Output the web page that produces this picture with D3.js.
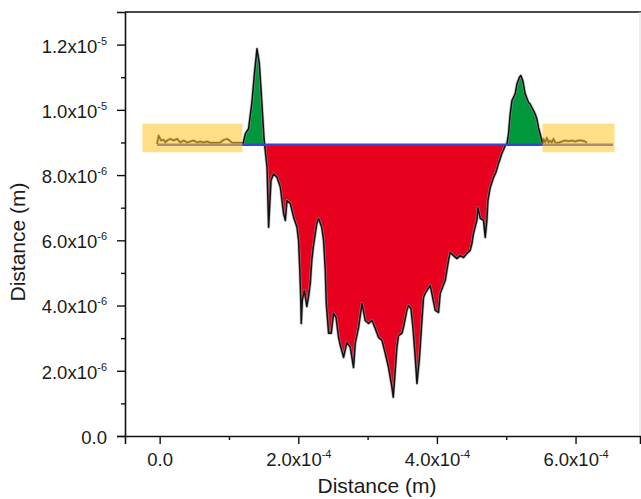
<!DOCTYPE html>
<html>
<head>
<meta charset="utf-8">
<script src="https://cdn.jsdelivr.net/npm/d3@7"></script>
<style>
  html, body { margin: 0; padding: 0; background: #fff; }
  svg { display: block; }
  text { font-family: "Liberation Sans", Arial, sans-serif; fill: #1a1a1a; }
</style>
</head>
<body>
<svg id="chart" width="641" height="499"></svg>
<script>
// ---- DATA (distances in micrometres; axes labelled in metres) ----
// reference surface, left of the scratch
const leftFlatX = [-3.7, -1.4, 2.0, 5.8, 8.2, 10.7, 15.4, 20.2, 25.1, 29.8, 34.6, 39.5, 44.3, 49.0, 53.9, 58.7, 63.4, 68.4, 73.1, 77.9, 82.8, 87.5, 92.3, 97.2, 100.9, 104.4, 109.2, 113.9, 118.8];
const leftFlatY = [8.95, 9.21, 9.06, 9.08, 9.00, 9.06, 9.11, 9.06, 9.11, 9.00, 9.06, 9.00, 9.03, 9.06, 9.00, 9.03, 9.00, 9.03, 8.99, 8.99, 8.99, 9.00, 9.08, 9.11, 9.06, 8.99, 8.99, 8.99, 8.99];

// scratch profile: pile-up left, groove, pile-up right
const featureX = [120.3, 123.6, 128.3, 133.2, 136.6, 140.4, 143.7, 145.9, 148.1, 150.3, 151.4,
  154.9, 157.2, 160.6, 164.4, 169.3, 174.1, 178.8, 181.3, 183.7, 188.5, 193.2, 198.1, 200.4, 202.2, 203.6, 204.3, 205.8, 208.7, 212.3, 215.1, 217.3, 219.5, 221.6, 226.7, 229.3, 233.9, 236.5, 238.9, 240.4, 243.7, 247.6, 250.9, 254.4, 258.1, 260.6, 265.3, 270.2, 275.0, 279.7, 282.2, 287.0, 291.9, 296.6, 301.4, 306.3, 311.0, 315.8, 320.7, 325.5, 330.2, 335.1, 337.0, 339.9, 342.3, 344.6, 349.5, 351.8, 356.7, 359.1, 362.5, 365.4, 368.7, 371.2, 374.9, 378.4, 380.7, 383.1, 390.3, 397.6, 402.3, 404.8, 412.0, 416.7, 419.2, 423.9, 428.9, 433.6, 438.4, 443.3, 448.0, 450.5, 452.8, 457.7, 459.1, 462.5, 467.2, 469.7, 472.1, 473.6, 476.9, 481.6, 485.1, 488.8, 493.7, 498.5,
  501.0, 503.3, 505.7, 508.2, 512.9, 515.4, 519.1, 521.1, 524.0, 527.3, 532.1, 534.5, 539.3, 541.8, 544.2, 546.5, 549.0, 551.4, 552.9];
const featureY = [8.96, 9.27, 9.42, 10.25, 11.08, 11.87, 11.45, 10.74, 9.98, 9.21, 8.93,
  8.24, 6.40, 7.83, 8.04, 7.93, 7.63, 6.81, 6.61, 7.22, 7.13, 6.71, 6.40, 5.99, 5.08, 4.16, 3.45, 4.16, 4.46, 3.97, 4.31, 4.68, 5.38, 5.78, 6.51, 6.67, 6.39, 5.99, 5.08, 4.06, 3.15, 3.15, 3.76, 3.64, 3.02, 2.78, 2.41, 2.87, 2.72, 2.10, 2.84, 3.33, 4.06, 3.54, 3.45, 3.54, 3.30, 3.02, 2.93, 2.53, 2.10, 1.49, 1.19, 2.01, 2.72, 3.08, 3.15, 3.33, 3.85, 4.00, 3.91, 3.33, 2.41, 1.61, 2.41, 3.54, 4.25, 4.37, 4.62, 3.85, 3.79, 4.37, 4.77, 5.38, 5.63, 5.53, 5.44, 5.53, 5.47, 5.60, 5.69, 5.90, 6.21, 6.61, 7.00, 6.67, 6.61, 6.09, 6.61, 7.22, 7.62, 7.92, 8.08, 8.35, 8.66, 8.90,
  8.96, 9.26, 9.87, 10.28, 10.49, 10.79, 11.00, 11.05, 10.89, 10.49, 10.23, 10.18, 9.98, 9.87, 9.72, 9.46, 9.26, 9.06, 8.96];

// reference surface, right of the scratch
const rightFlatX = [553.7, 556.2, 558.6, 560.9, 563.4, 565.8, 568.2, 570.6, 575.4, 580.3, 585.0, 589.8, 594.7, 599.4, 604.2, 609.1, 613.8, 616.3];
const rightFlatY = [9.11, 9.00, 9.14, 9.00, 9.06, 9.00, 9.11, 9.00, 8.99, 9.03, 9.06, 9.04, 9.06, 9.03, 9.06, 9.06, 9.03, 8.99];

// reference (mean surface) line
const baselineLevel = 8.93;
const baselineX = [-3.7, 654.2];

// highlighted reference regions
const boxX0 = [-24.9, 552.3];
const boxX1 = [119.3, 656.3];
const boxYTop = 9.58;
const boxYBottom = 8.70;

// axes
const xDomain = [-50, 693];
const yDomain = [0, 13];
const xMajor = [0, 200, 400, 600];
const xMinor = [100, 300, 500];
const xTickMant = ["0.0", "2.0x10", "4.0x10", "6.0x10"];
const xTickExp = ["", "-4", "-4", "-4"];
const yMajor = [0, 2, 4, 6, 8, 10, 12];
const yMinor = [1, 3, 5, 7, 9, 11];
const yTickMant = ["0.0", "2.0x10", "4.0x10", "6.0x10", "8.0x10", "1.0x10", "1.2x10"];
const yTickExp = ["", "-6", "-6", "-6", "-6", "-5", "-5"];
const xTitle = "Distance (m)";
const yTitle = "Distance (m)";

// ---- DRAWING ----
(function () {
const svg = d3.select("#chart");
const pL = 125, pR = 640, pT = 12, pB = 436;
const x = d3.scaleLinear().domain(xDomain).range([pL, pR]);
const y = d3.scaleLinear().domain(yDomain).range([pB, pT]);

const pts = (xs, ys) => xs.map((v, i) => [v, ys[i]]);
const leftFlat = pts(leftFlatX, leftFlatY);
const feature = pts(featureX, featureY);
const rightFlat = pts(rightFlatX, rightFlatY);
const fullProfile = leftFlat.concat(feature, rightFlat);

const defs = svg.append("defs");
defs.append("clipPath").attr("id", "above").append("rect")
  .attr("x", pL).attr("y", pT).attr("width", pR - pL).attr("height", y(baselineLevel) - pT);
defs.append("clipPath").attr("id", "below").append("rect")
  .attr("x", pL).attr("y", y(baselineLevel)).attr("width", pR - pL).attr("height", pB - y(baselineLevel));

const area = d3.area().x(d => x(d[0])).y0(y(baselineLevel)).y1(d => y(d[1]));
svg.append("path").datum(feature).attr("d", area).attr("fill", "#00983c").attr("clip-path", "url(#above)");
svg.append("path").datum(feature).attr("d", area).attr("fill", "#e8001f").attr("clip-path", "url(#below)");

const line = d3.line().x(d => x(d[0])).y(d => y(d[1]));
svg.append("path").datum(fullProfile).attr("d", line).attr("fill", "none")
  .attr("stroke", "#9a9a9a").attr("stroke-width", 3).attr("stroke-opacity", 0.6).attr("stroke-linejoin", "round");
svg.append("path").datum(fullProfile).attr("d", line).attr("fill", "none")
  .attr("stroke", "#111").attr("stroke-width", 1.5).attr("stroke-linejoin", "round");

svg.append("line")
  .attr("x1", x(baselineX[0])).attr("x2", x(baselineX[1]))
  .attr("y1", y(baselineLevel)).attr("y2", y(baselineLevel))
  .attr("stroke", "#3646cf").attr("stroke-width", 2.5);

svg.selectAll("rect.box").data(boxX0).join("rect").attr("class", "box")
  .attr("x", (d) => x(d)).attr("width", (d, i) => x(boxX1[i]) - x(d))
  .attr("y", y(boxYTop)).attr("height", y(boxYBottom) - y(boxYTop))
  .attr("fill", "#ffc72c").attr("fill-opacity", 0.56);

svg.append("line").attr("x1", pL).attr("x2", 641).attr("y1", pT).attr("y2", pT)
  .attr("stroke", "#4a4a4a").attr("stroke-width", 2);
svg.append("line").attr("x1", pR).attr("x2", pR).attr("y1", pT).attr("y2", pB)
  .attr("stroke", "#dddddd").attr("stroke-width", 1);

function fmtLabels(sel, mant, exp, supDy) {
  sel.selectAll(".tick text").each(function(d, i) {
    const t = d3.select(this);
    t.text(null);
    t.append("tspan").text(mant[i]);
    if (exp[i]) t.append("tspan").attr("dy", supDy).attr("font-size", "11px").text(exp[i]);
  });
}

const yAx = svg.append("g").attr("transform", `translate(${pL},0)`)
  .call(d3.axisLeft(y).tickValues(yMajor).tickSize(8).tickPadding(10).tickFormat((d, i) => i));
yAx.call(fmtLabels, yTickMant, yTickExp, -8);
yAx.selectAll(".tick text").attr("dy", "0.4em").attr("font-size", "18.5px");
svg.append("g").attr("transform", `translate(${pL},0)`)
  .call(d3.axisLeft(y).tickValues(yMinor).tickSize(4).tickFormat(""))
  .call(g => g.select(".domain").remove());

const xAx = svg.append("g").attr("transform", `translate(0,${pB})`)
  .call(d3.axisBottom(x).tickValues(xMajor).tickSize(8).tickPadding(9).tickFormat((d, i) => i));
xAx.call(fmtLabels, xTickMant, xTickExp, -8);
xAx.selectAll(".tick text").attr("font-size", "18.5px");
svg.append("g").attr("transform", `translate(0,${pB})`)
  .call(d3.axisBottom(x).tickValues(xMinor).tickSize(4).tickFormat(""))
  .call(g => g.select(".domain").remove());

svg.selectAll(".domain").attr("stroke", "#111").attr("stroke-width", 1.6);
svg.selectAll(".tick line").attr("stroke", "#111").attr("stroke-width", 1.4);
svg.selectAll("g").attr("font-family", null);
svg.selectAll(".tick text").attr("fill", "#1a1a1a");

svg.append("text").attr("x", 377).attr("y", 493).attr("text-anchor", "middle")
  .attr("font-size", "21px").text(xTitle);
svg.append("text").attr("transform", "translate(25,242) rotate(-90)").attr("text-anchor", "middle")
  .attr("font-size", "21px").text(yTitle);
})();
</script>
</body>
</html>
